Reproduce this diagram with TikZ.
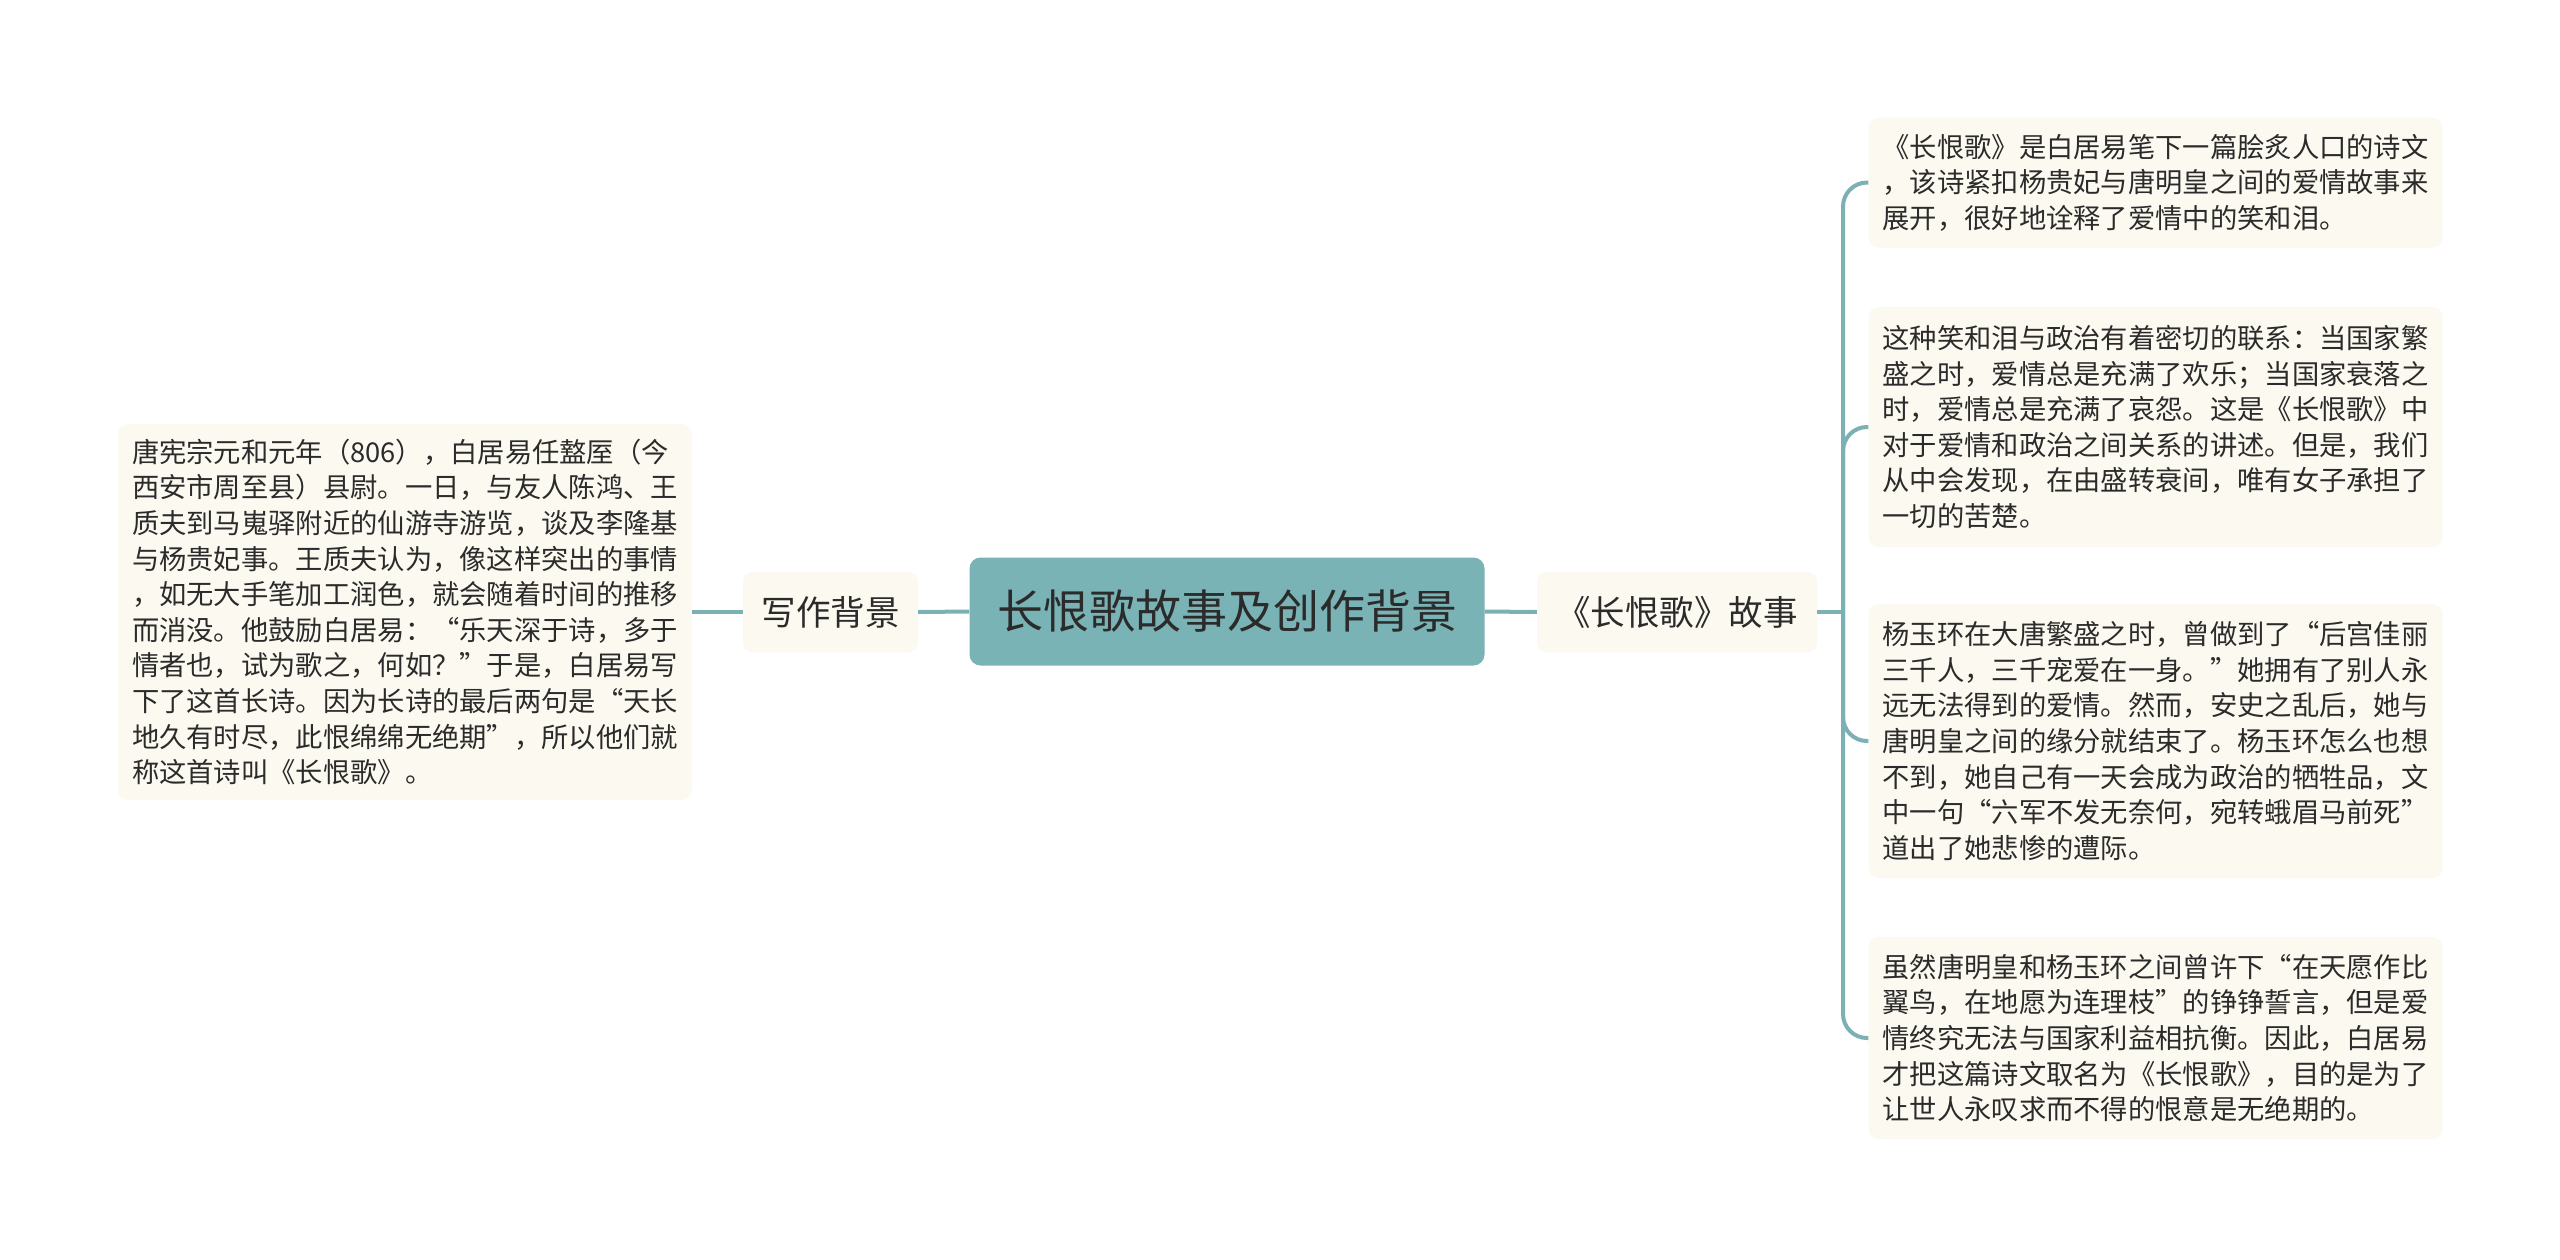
\documentclass[tikz,border=0pt]{standalone}
\usepackage{fontspec}
\setmainfont{Noto Sans CJK SC}
\definecolor{teal1}{HTML}{7AB3B5}
\definecolor{conn}{HTML}{7BB0B4}
\definecolor{cream}{HTML}{FCFAF0}
\definecolor{txt}{HTML}{2B2B2B}
\begin{document}
\begin{tikzpicture}[x=1pt,y=-1pt,
  rootbox/.style={draw=none,fill=teal1,rounded corners=11pt,minimum width=515pt,minimum height=108pt,
    inner sep=0pt,text=txt,font=\fontsize{46}{56}\selectfont},
  midbox/.style={draw=none,fill=cream,rounded corners=10pt,minimum height=81pt,inner sep=0pt,
    text=txt,font=\fontsize{34.5}{42}\selectfont},
  leafbox/.style={draw=none,fill=cream,rounded corners=10pt,inner xsep=14pt,inner ysep=0pt,
    text width=546pt,align=left,text=txt,font=\fontsize{27.3}{35.6}\selectfont},
  link/.style={draw=conn,line width=4pt},
]
\useasboundingbox (0,0) rectangle (2560,1259);
\fill[white] (0,0) rectangle (2560,1259);

\node[rootbox] (root) at (1227,611.5) {长恨歌故事及创作背景};
\node[midbox,minimum width=175pt] (bg) at (830.5,612) {写作背景};
\node[midbox,minimum width=280pt] (story) at (1677,612) {《长恨歌》故事};

\node[leafbox,minimum height=376pt] (left) at (405,612) {唐宪宗元和元年（806），白居易任盩厔（今\\
西安市周至县）县尉。一日，与友人陈鸿、王\\
质夫到马嵬驿附近的仙游寺游览，谈及李隆基\\
与杨贵妃事。王质夫认为，像这样突出的事情\\
，如无大手笔加工润色，就会随着时间的推移\\
而消没。他鼓励白居易：“乐天深于诗，多于\\
情者也，试为歌之，何如？”于是，白居易写\\
下了这首长诗。因为长诗的最后两句是“天长\\
地久有时尽，此恨绵绵无绝期”，所以他们就\\
称这首诗叫《长恨歌》。};

\node[leafbox,minimum height=130pt] (r1) at (2155.5,182.5) {《长恨歌》是白居易笔下一篇脍炙人口的诗文\\
，该诗紧扣杨贵妃与唐明皇之间的爱情故事来\\
展开，很好地诠释了爱情中的笑和泪。};

\node[leafbox,minimum height=240pt] (r2) at (2155.5,427) {这种笑和泪与政治有着密切的联系：当国家繁\\
盛之时，爱情总是充满了欢乐；当国家衰落之\\
时，爱情总是充满了哀怨。这是《长恨歌》中\\
对于爱情和政治之间关系的讲述。但是，我们\\
从中会发现，在由盛转衰间，唯有女子承担了\\
一切的苦楚。};

\node[leafbox,minimum height=274pt] (r3) at (2155.5,741) {杨玉环在大唐繁盛之时，曾做到了“后宫佳丽\\
三千人，三千宠爱在一身。”她拥有了别人永\\
远无法得到的爱情。然而，安史之乱后，她与\\
唐明皇之间的缘分就结束了。杨玉环怎么也想\\
不到，她自己有一天会成为政治的牺牲品，文\\
中一句“六军不发无奈何，宛转蛾眉马前死”\\
道出了她悲惨的遭际。};

\node[leafbox,minimum height=202pt] (r4) at (2155.5,1038) {虽然唐明皇和杨玉环之间曾许下“在天愿作比\\
翼鸟，在地愿为连理枝”的铮铮誓言，但是爱\\
情终究无法与国家利益相抗衡。因此，白居易\\
才把这篇诗文取名为《长恨歌》，目的是为了\\
让世人永叹求而不得的恨意是无绝期的。};

\coordinate (br) at (1843,612);
\draw[link] (root.west) -- (bg.east);
\draw[link] (bg.west) -- (left.east);
\draw[link] (root.east) -- (story.west);
\draw[link] (story.east) -- (br);
\draw[link,rounded corners=24pt] (br) |- (r1.west);
\draw[link,rounded corners=24pt] (br) |- (r2.west);
\draw[link,rounded corners=24pt] (br) |- (r3.west);
\draw[link,rounded corners=24pt] (br) |- (r4.west);
\end{tikzpicture}
\end{document}
